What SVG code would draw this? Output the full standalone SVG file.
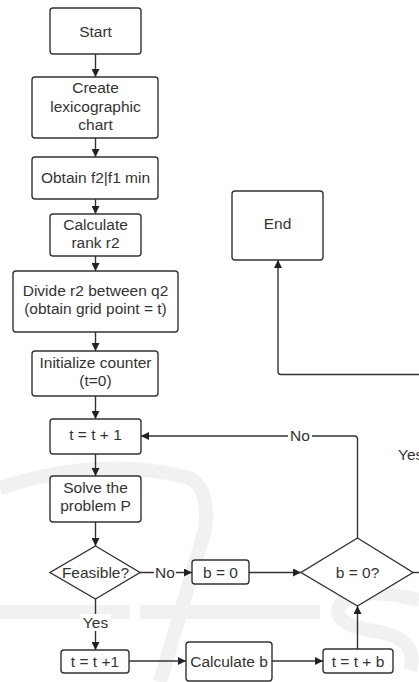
<svg xmlns="http://www.w3.org/2000/svg" width="419" height="682" viewBox="0 0 419 682">
<defs>
<marker id="arr" viewBox="0 0 10 10" refX="10" refY="5" markerWidth="8" markerHeight="8" markerUnits="userSpaceOnUse" orient="auto">
<path d="M0,0 L10,5 L0,10 Z" fill="#222"/>
</marker>
<style>
.box{fill:#fff;stroke:#333;stroke-width:1.4}
.t{font-family:"Liberation Sans",Arial,sans-serif;font-size:15.5px;fill:#333;text-anchor:middle}
.c{fill:none;stroke:#333;stroke-width:1.4}
.a{marker-end:url(#arr)}
.lb{fill:#fff}
.wm{fill:none;stroke:#f1f1f1;stroke-width:14}
</style>
</defs>
<rect width="419" height="682" fill="#fff"/>
<g id="watermark">
<path class="wm" d="M0,488 Q100,455 190,478 Q210,490 205,530 L160,682"/>
<path class="wm" d="M0,612 H130"/>
<path class="wm" d="M140,612 H320"/>
<path class="wm" d="M419,600 Q360,585 340,605 Q330,625 380,632 Q419,640 410,670"/>
</g>
<g id="connectors">
<line class="c a" x1="95.5" y1="54" x2="95.5" y2="77"/>
<line class="c a" x1="95.5" y1="138" x2="95.5" y2="157"/>
<line class="c a" x1="95.5" y1="199" x2="95.5" y2="214"/>
<line class="c a" x1="95.5" y1="256" x2="95.5" y2="271"/>
<line class="c a" x1="95.5" y1="332" x2="95.5" y2="351"/>
<line class="c a" x1="95.5" y1="396" x2="95.5" y2="419"/>
<line class="c a" x1="95.5" y1="454" x2="95.5" y2="476"/>
<line class="c a" x1="95.5" y1="522" x2="95.5" y2="546"/>
<line class="c a" x1="140" y1="572.5" x2="192" y2="572.5"/>
<rect class="lb" x="154" y="564" width="22" height="16"/>
<text class="t" x="165" y="578">No</text>
<line class="c a" x1="95.5" y1="599" x2="95.5" y2="650"/>
<rect class="lb" x="80" y="614" width="31" height="17"/>
<text class="t" x="95.5" y="628">Yes</text>
<line class="c a" x1="129" y1="661" x2="186" y2="661"/>
<line class="c a" x1="272" y1="661" x2="323" y2="661"/>
<line class="c a" x1="357.5" y1="649" x2="357.5" y2="606"/>
<line class="c a" x1="249" y1="572.5" x2="301" y2="572.5"/>
<path class="c a" d="M357.5,538 V439 Q357.5,436 354.5,436 H141"/>
<rect class="lb" x="288" y="428" width="24" height="16"/>
<text class="t" x="300" y="441">No</text>
<line class="c" x1="413" y1="572.5" x2="419" y2="572.5"/>
<path class="c a" d="M419,374.5 H281 Q278,374.5 278,371.5 V260"/>
<text class="t" x="398" y="460" style="text-anchor:start">Yes</text>
</g>
<g id="start"><rect class="box" x="50" y="8" width="91" height="46" rx="3"/><text class="t" x="95.5" y="36.5">Start</text></g>
<g id="create"><rect class="box" x="32" y="77" width="126" height="61" rx="3"/><text class="t" x="95.5" y="93">Create</text><text class="t" x="95.5" y="111.5">lexicographic</text><text class="t" x="95.5" y="129.5">chart</text></g>
<g id="obtain"><rect class="box" x="32" y="157" width="126" height="42" rx="3"/><text class="t" x="95.5" y="183">Obtain f2|f1 min</text></g>
<g id="rank"><rect class="box" x="50" y="214" width="91" height="42" rx="3"/><text class="t" x="95.5" y="229.5">Calculate</text><text class="t" x="95.5" y="247.5">rank r2</text></g>
<g id="divide"><rect class="box" x="13" y="271" width="165" height="61" rx="3"/><text class="t" x="95.5" y="295.5">Divide r2 between q2</text><text class="t" x="95.5" y="313.5">(obtain grid point = t)</text></g>
<g id="init"><rect class="box" x="32" y="351" width="126" height="45" rx="3"/><text class="t" x="95.5" y="367.5">Initialize counter</text><text class="t" x="95.5" y="386">(t=0)</text></g>
<g id="inc1"><rect class="box" x="50" y="419" width="91" height="35" rx="3"/><text class="t" x="95.5" y="440">t = t + 1</text></g>
<g id="solve"><rect class="box" x="50" y="476" width="91" height="46" rx="3"/><text class="t" x="95.5" y="492.5">Solve the</text><text class="t" x="95.5" y="510.5">problem P</text></g>
<g id="feasible"><polygon class="box" points="95.5,546 140,572.5 95.5,599 50,572.5"/><text class="t" x="95.5" y="578">Feasible?</text></g>
<g id="b0"><rect class="box" x="192" y="560" width="57" height="24" rx="3"/><text class="t" x="220.5" y="578">b = 0</text></g>
<g id="inc2"><rect class="box" x="61" y="650" width="68" height="23" rx="3"/><text class="t" x="95" y="667">t = t +1</text></g>
<g id="calcb"><rect class="box" x="186" y="642" width="86" height="39" rx="3"/><text class="t" x="229" y="667">Calculate b</text></g>
<g id="tb"><rect class="box" x="323" y="649" width="70" height="24" rx="3"/><text class="t" x="358" y="667">t = t + b</text></g>
<g id="bq"><polygon class="box" points="357.5,538 413,572.5 357.5,606 301,572.5"/><text class="t" x="357.5" y="578">b = 0?</text></g>
<g id="end"><rect class="box" x="232" y="191" width="91" height="69" rx="3"/><text class="t" x="277.5" y="228.5">End</text></g>
</svg>
